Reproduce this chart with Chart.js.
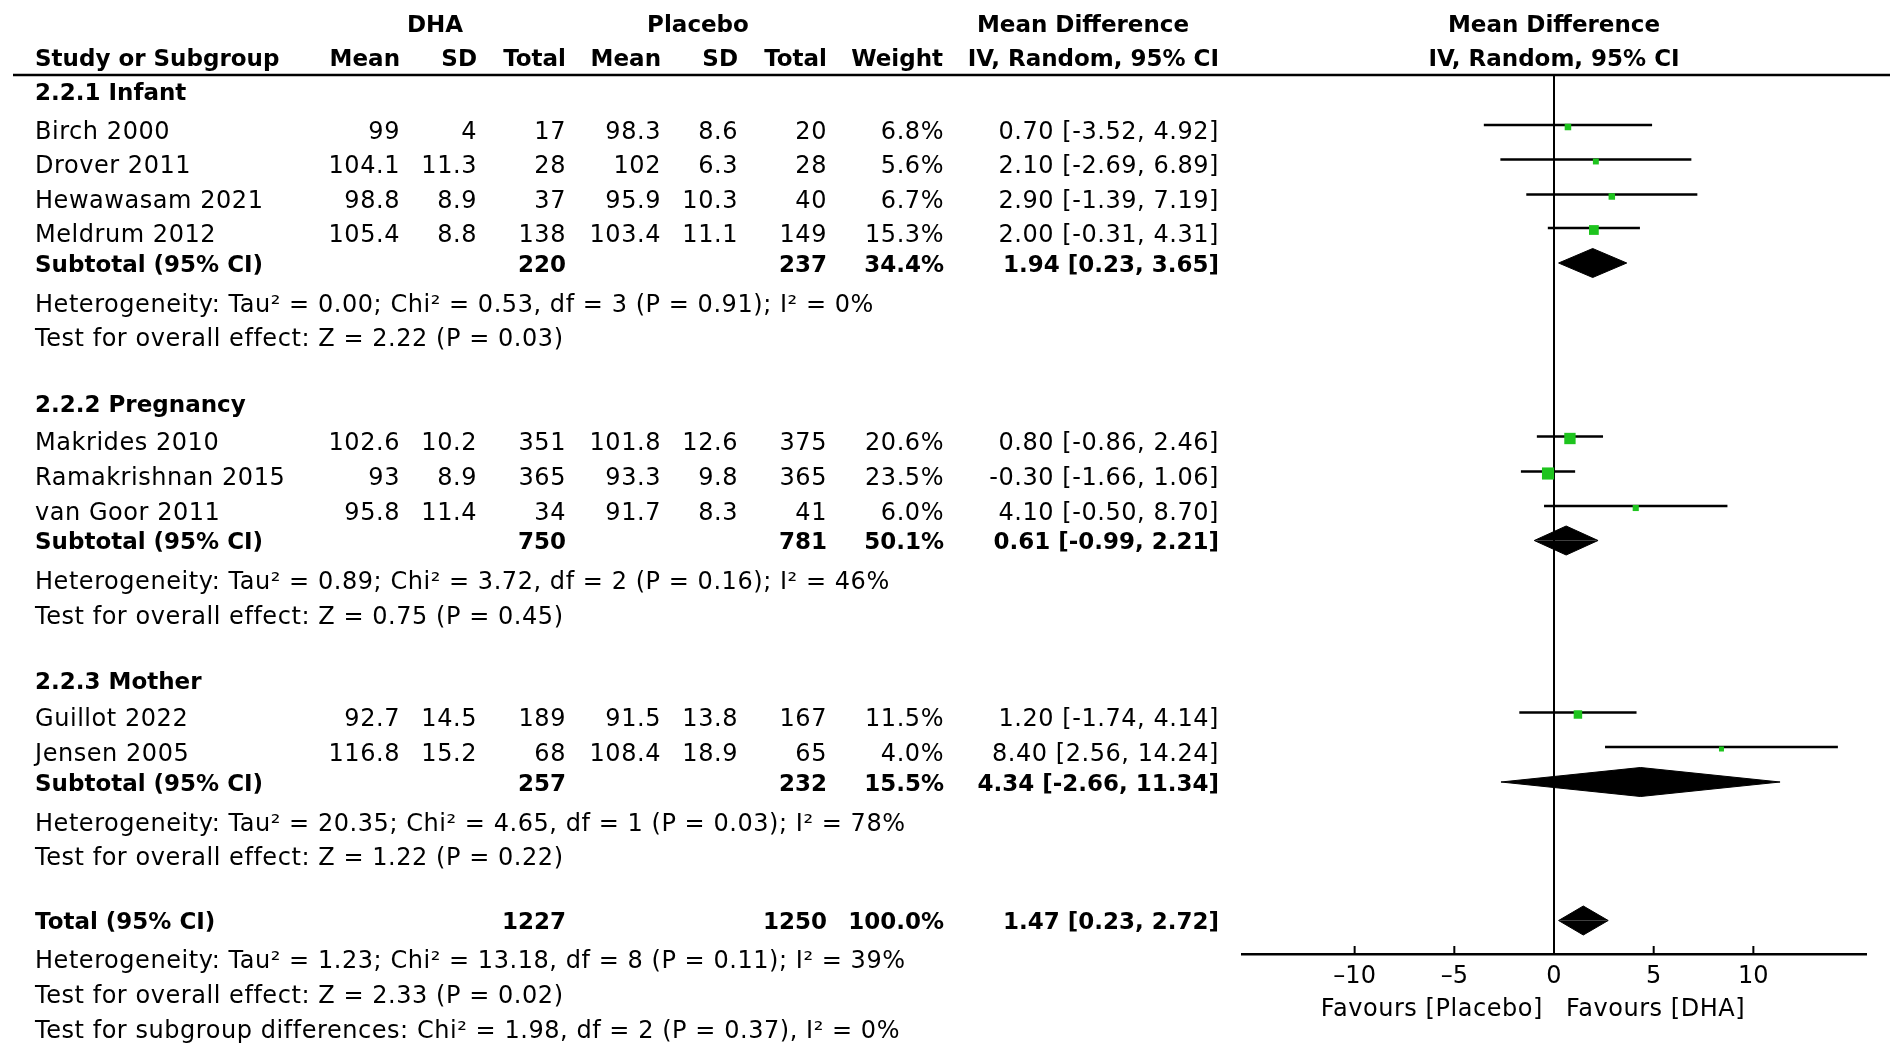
<!DOCTYPE html>
<html>
<head>
<meta charset="utf-8">
<title>DHA vs Placebo forest plot</title>
<script src="https://cdn.jsdelivr.net/npm/chart.js@4.4.1/dist/chart.umd.min.js"></script>
<style>
  html, body { margin: 0; padding: 0; background: #fff; }
  canvas { display: block; }
</style>
</head>
<body>
<canvas id="forest" width="1898" height="1051"></canvas>
<script>
// ---- data ----
const groups = ['2.2.1 Infant', '2.2.2 Pregnancy', '2.2.3 Mother'];
const studies = ['Birch 2000', 'Drover 2011', 'Hewawasam 2021', 'Meldrum 2012',
  'Makrides 2010', 'Ramakrishnan 2015', 'van Goor 2011', 'Guillot 2022', 'Jensen 2005'];
const studyGroup = [0, 0, 0, 0, 1, 1, 1, 2, 2];
const dhaMean = [99, 104.1, 98.8, 105.4, 102.6, 93, 95.8, 92.7, 116.8];
const dhaSD = [4, 11.3, 8.9, 8.8, 10.2, 8.9, 11.4, 14.5, 15.2];
const dhaN = [17, 28, 37, 138, 351, 365, 34, 189, 68];
const plaMean = [98.3, 102, 95.9, 103.4, 101.8, 93.3, 91.7, 91.5, 108.4];
const plaSD = [8.6, 6.3, 10.3, 11.1, 12.6, 9.8, 8.3, 13.8, 18.9];
const plaN = [20, 28, 40, 149, 375, 365, 41, 167, 65];
const weight = [6.8, 5.6, 6.7, 15.3, 20.6, 23.5, 6.0, 11.5, 4.0];
const md = [0.70, 2.10, 2.90, 2.00, 0.80, -0.30, 4.10, 1.20, 8.40];
const ciLo = [-3.52, -2.69, -1.39, -0.31, -0.86, -1.66, -0.50, -1.74, 2.56];
const ciHi = [4.92, 6.89, 7.19, 4.31, 2.46, 1.06, 8.70, 4.14, 14.24];

const subDhaN = [220, 750, 257];
const subPlaN = [237, 781, 232];
const subWeight = [34.4, 50.1, 15.5];
const subMd = [1.94, 0.61, 4.34];
const subLo = [0.23, -0.99, -2.66];
const subHi = [3.65, 2.21, 11.34];
const subHet = [
  'Heterogeneity: Tau² = 0.00; Chi² = 0.53, df = 3 (P = 0.91); I² = 0%',
  'Heterogeneity: Tau² = 0.89; Chi² = 3.72, df = 2 (P = 0.16); I² = 46%',
  'Heterogeneity: Tau² = 20.35; Chi² = 4.65, df = 1 (P = 0.03); I² = 78%'
];
const subTest = [
  'Test for overall effect: Z = 2.22 (P = 0.03)',
  'Test for overall effect: Z = 0.75 (P = 0.45)',
  'Test for overall effect: Z = 1.22 (P = 0.22)'
];

const totalDhaN = 1227;
const totalPlaN = 1250;
const totalWeight = 100.0;
const totalMd = 1.47;
const totalLo = 0.23;
const totalHi = 2.72;
const totalNotes = [
  'Heterogeneity: Tau² = 1.23; Chi² = 13.18, df = 8 (P = 0.11); I² = 39%',
  'Test for overall effect: Z = 2.33 (P = 0.02)',
  'Test for subgroup differences: Chi² = 1.98, df = 2 (P = 0.37), I² = 0%'
];

const xTicks = [-10, -5, 0, 5, 10];
const xRange = [-15.65, 15.65];

// ---- layout (pixel rows of the table) ----
const rowRule = 75, rowAxis = 954;
const headY = [23, 57];
const groupY = [91.5, 403.5, 680];
const studyY = [130, 164.5, 199.5, 233, 441.5, 476.5, 511, 717.5, 752];
const subY = [263, 540.5, 782];
const hetY = [303, 580, 822];
const testY = [337, 615, 856];
const totalY = 920.5;
const totalNoteY = [959, 994, 1029];
const col = { label: 35, dhaMean: 400, dhaSD: 477, dhaN: 566, plaMean: 661, plaSD: 738, plaN: 827, weight: 944, ci: 1219 };
const DIAMOND_H = 14.5;
const GREEN = '#1ec41e';
const REG = '24px "DejaVu Sans"';
const BOLD = 'bold 23px "DejaVu Sans"';

const f2 = v => v.toFixed(2);
const ciText = (m, l, h) => `${f2(m)} [${f2(l)}, ${f2(h)}]`;

// ---- datasets ----
const whiskers = studies.map((s, i) => ({
  type: 'line',
  data: [{ x: ciLo[i], y: studyY[i] - 5 }, { x: ciHi[i], y: studyY[i] - 5 }],
  borderColor: '#000', borderWidth: 2.5, pointRadius: 0, fill: false, order: 2
}));

const squares = {
  type: 'scatter',
  data: md.map((v, i) => ({ x: v, y: studyY[i] - 3 })),
  pointStyle: 'rect',
  pointRadius: ctx => 2.5 * Math.sqrt(weight[ctx.dataIndex]) / Math.SQRT2,
  pointHoverRadius: ctx => 2.5 * Math.sqrt(weight[ctx.dataIndex]) / Math.SQRT2,
  backgroundColor: GREEN, borderWidth: 0, order: 1
};

function diamond(m, l, h, yc) {
  const half = dy => ({
    type: 'line',
    data: [{ x: l, y: yc }, { x: m, y: yc + dy }, { x: h, y: yc }],
    borderColor: '#000', borderWidth: 1, backgroundColor: '#000',
    pointRadius: 0, tension: 0, fill: { value: yc }, order: 1
  });
  return [half(-DIAMOND_H), half(DIAMOND_H)];
}
const diamonds = [];
subMd.forEach((m, g) => diamonds.push(...diamond(m, subLo[g], subHi[g], subY[g])));
diamonds.push(...diamond(totalMd, totalLo, totalHi, totalY));

// ---- table text + decorations ----
const tablePlugin = {
  id: 'table',
  beforeDraw(chart) {
    const c = chart.ctx;
    c.save();
    c.fillStyle = '#fff';
    c.fillRect(0, 0, chart.width, chart.height);
    c.restore();
  },
  afterDraw(chart) {
    const c = chart.ctx;
    const xs = chart.scales.x, ys = chart.scales.y;
    const x0 = xs.getPixelForValue(0);
    const put = (str, x, y, align, bold) => {
      c.font = bold ? BOLD : REG;
      c.letterSpacing = bold ? '0px' : '0.55px';
      c.textAlign = align;
      c.textBaseline = 'alphabetic';
      c.fillText(str, x, ys.getPixelForValue(y) + 8.6);
    };
    c.save();
    c.fillStyle = '#000';

    // header
    put('DHA', 435, headY[0], 'center', true);
    put('Placebo', 698, headY[0], 'center', true);
    put('Mean Difference', 1083, headY[0], 'center', true);
    put('Mean Difference', x0, headY[0], 'center', true);
    put('Study or Subgroup', col.label, headY[1], 'left', true);
    put('Mean', col.dhaMean, headY[1], 'right', true);
    put('SD', col.dhaSD, headY[1], 'right', true);
    put('Total', col.dhaN, headY[1], 'right', true);
    put('Mean', col.plaMean, headY[1], 'right', true);
    put('SD', col.plaSD, headY[1], 'right', true);
    put('Total', col.plaN, headY[1], 'right', true);
    put('Weight', col.weight - 1, headY[1], 'right', true);
    put('IV, Random, 95% CI', col.ci, headY[1], 'right', true);
    put('IV, Random, 95% CI', x0, headY[1], 'center', true);

    // groups
    groups.forEach((g, gi) => {
      put(g, col.label, groupY[gi], 'left', true);
      studies.forEach((s, i) => {
        if (studyGroup[i] !== gi) return;
        const y = studyY[i];
        put(s, col.label, y, 'left', false);
        put(String(dhaMean[i]), col.dhaMean, y, 'right', false);
        put(String(dhaSD[i]), col.dhaSD, y, 'right', false);
        put(String(dhaN[i]), col.dhaN, y, 'right', false);
        put(String(plaMean[i]), col.plaMean, y, 'right', false);
        put(String(plaSD[i]), col.plaSD, y, 'right', false);
        put(String(plaN[i]), col.plaN, y, 'right', false);
        put(weight[i].toFixed(1) + '%', col.weight, y, 'right', false);
        put(ciText(md[i], ciLo[i], ciHi[i]), col.ci, y, 'right', false);
      });
      put('Subtotal (95% CI)', col.label, subY[gi], 'left', true);
      put(String(subDhaN[gi]), col.dhaN, subY[gi], 'right', true);
      put(String(subPlaN[gi]), col.plaN, subY[gi], 'right', true);
      put(subWeight[gi].toFixed(1) + '%', col.weight, subY[gi], 'right', true);
      put(ciText(subMd[gi], subLo[gi], subHi[gi]), col.ci, subY[gi], 'right', true);
      put(subHet[gi], col.label, hetY[gi], 'left', false);
      put(subTest[gi], col.label, testY[gi], 'left', false);
    });

    // overall
    put('Total (95% CI)', col.label, totalY, 'left', true);
    put(String(totalDhaN), col.dhaN, totalY, 'right', true);
    put(String(totalPlaN), col.plaN, totalY, 'right', true);
    put(totalWeight.toFixed(1) + '%', col.weight, totalY, 'right', true);
    put(ciText(totalMd, totalLo, totalHi), col.ci, totalY, 'right', true);
    totalNotes.forEach((t, i) => put(t, col.label, totalNoteY[i], 'left', false));

    // axis captions
    put('Favours [Placebo]', x0 - 11, 1007, 'right', false);
    put('Favours [DHA]', x0 + 12, 1007, 'left', false);

    // header rule
    c.strokeStyle = '#000';
    c.lineWidth = 2.5;
    c.beginPath();
    c.moveTo(13, ys.getPixelForValue(rowRule));
    c.lineTo(1890, ys.getPixelForValue(rowRule));
    c.stroke();

    // tick marks pointing up from the axis line
    const yb = ys.getPixelForValue(rowAxis);
    c.lineWidth = 2;
    xs.ticks.forEach(t => {
      const px = xs.getPixelForValue(t.value);
      c.beginPath();
      c.moveTo(px, yb);
      c.lineTo(px, yb - 8);
      c.stroke();
    });
    c.restore();
  }
};

new Chart(document.getElementById('forest'), {
  type: 'scatter',
  data: { datasets: [...whiskers, squares, ...diamonds] },
  options: {
    responsive: false,
    animation: false,
    events: [],
    layout: { padding: { left: 1242, right: 32, top: rowRule, bottom: 0 } },
    plugins: { legend: { display: false }, tooltip: { enabled: false } },
    scales: {
      x: {
        type: 'linear',
        position: 'bottom',
        min: xRange[0], max: xRange[1],
        afterBuildTicks: s => { s.ticks = xTicks.map(v => ({ value: v })); },
        afterFit: s => { s.height = 1051 - rowAxis; },
        ticks: {
          color: '#000',
          font: { family: 'DejaVu Sans', size: 24 },
          padding: 8,
          maxRotation: 0,
          autoSkip: false,
          callback: v => (v < 0 ? '–' + Math.abs(v) : String(v))
        },
        grid: {
          drawTicks: false,
          lineWidth: 2,
          color: ctx => (ctx.tick && ctx.tick.value === 0 ? '#000' : 'rgba(0,0,0,0)')
        },
        border: { display: true, color: '#000', width: 2.5 }
      },
      y: {
        type: 'linear',
        display: false,
        reverse: true,
        min: rowRule, max: rowAxis
      }
    }
  },
  plugins: [tablePlugin]
});
</script>
</body>
</html>
